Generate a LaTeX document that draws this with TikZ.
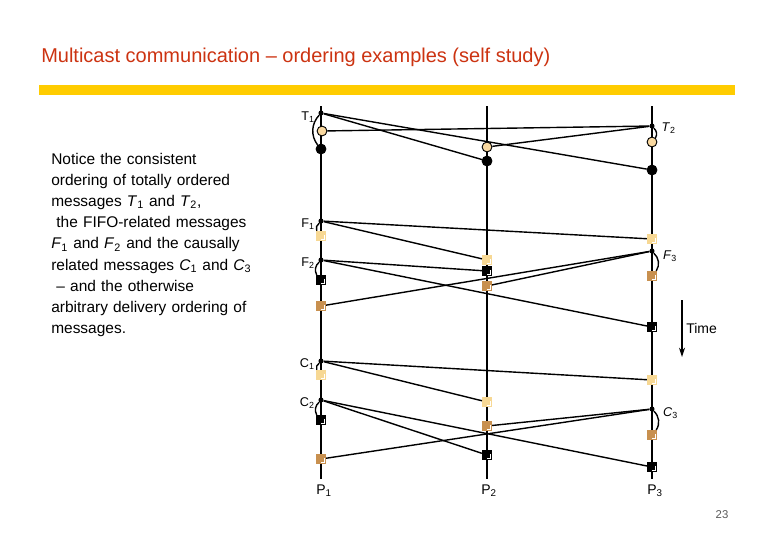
\documentclass[tikz,border=0pt]{standalone}
\usepackage{fontspec}
\setmainfont{Liberation Sans}
\usetikzlibrary{arrows.meta,positioning,calc}
\definecolor{titlered}{HTML}{CC3311}
\definecolor{baryellow}{HTML}{FFCC00}
\definecolor{msgpale}{HTML}{F7D894}
\definecolor{msgtan}{HTML}{C8904F}
\definecolor{circpale}{HTML}{FAD9A0}
\tikzset{
  sendpt/.style={circle,fill=black,inner sep=0pt,minimum size=3.8pt},
  rcvdot/.style={circle,draw=black,line width=0.7pt,fill=#1,inner sep=0pt,minimum size=7.4pt},
  rcvbox/.style={rectangle,fill=#1,inner sep=0pt,minimum size=7.2pt,
    path picture={\draw[white,line width=0.5pt]
      ($(path picture bounding box.east)+(-1pt,0.4pt)$) |- ($(path picture bounding box.south)+(0,1pt)$);}},
  blkbox/.style={rcvbox=black,draw=black,line width=0.5pt},
  lbl/.style={font=\fontsize{9.5}{11}\selectfont,inner sep=0pt},
  plbl/.style={font=\fontsize{10.5}{12}\selectfont,inner sep=0pt},
  msg/.style={line width=1.05pt},
}
\begin{document}
\begin{tikzpicture}[x=0.75pt,y=-0.75pt,>=Stealth]
\useasboundingbox (0,0) rectangle (780,540);
\node[anchor=west,text=titlered,font=\fontsize{15}{17}\selectfont,inner sep=0pt] (title) at (41,57)
  {Multicast communication – ordering examples (self study)};
\fill[baryellow] (39,85) rectangle (735,95);
\node[anchor=base west,text width=190pt,align=left,inner sep=0pt,
  font=\fontsize{11.6}{15.9}\selectfont] (notes) at (51,164)
  {Notice the consistent\\
   ordering of totally ordered\\
   messages \textit{T}\textsubscript{1} and \textit{T}\textsubscript{2},\\
   \ the FIFO-related messages\\
   \textit{F}\textsubscript{1} and \textit{F}\textsubscript{2} and the causally\\
   related messages \textit{C}\textsubscript{1} and \textit{C}\textsubscript{3}\\
   \ – and the otherwise\\
   arbitrary delivery ordering of\\
   messages.};

% processes
\node[plbl] (pone) at (324,491) {P\textsubscript{1}};
\node[plbl] (ptwo) at (489,491) {P\textsubscript{2}};
\node[plbl] (pthree) at (655,491) {P\textsubscript{3}};
\coordinate (topone) at (321,106);
\coordinate (toptwo) at (487,106);
\coordinate (topthree) at (652,106);
\draw[line width=1.15pt] (topone) -- (321,479);
\draw[line width=1.15pt] (toptwo) -- (487,479);
\draw[line width=1.15pt] (topthree) -- (652,479);

% totally ordered
\node[sendpt] (t1) at (321,113) {};
\node[sendpt] (t2) at (652,126) {};
\node[rcvdot=black] (t1p1) at (321,149) {};
\node[rcvdot=black] (t1p2) at (487,161) {};
\node[rcvdot=black] (t1p3) at (652,170) {};
\node[rcvdot=circpale] (t2p1) at (322,131) {};
\node[rcvdot=circpale] (t2p2) at (487,147) {};
\node[rcvdot=circpale] (t2p3) at (652,142) {};
\node[lbl,left=2.5pt of t1,yshift=-3pt] (t1lbl) {T\textsubscript{1}};
\node[lbl,right=5pt of t2,yshift=-1.5pt] (t2lbl) {\textit{T}\textsubscript{2}};

% FIFO
\node[sendpt] (f1) at (321,221) {};
\node[sendpt] (f2) at (321,260) {};
\node[sendpt] (f3) at (652,251) {};
\node[rcvbox=msgpale] (f1p1) at (321,236) {};
\node[rcvbox=msgpale] (f1p2) at (487,260) {};
\node[rcvbox=msgpale] (f1p3) at (652,239) {};
\node[blkbox] (f2p1) at (321,280) {};
\node[blkbox] (f2p2) at (487,271) {};
\node[blkbox] (f2p3) at (652,327) {};
\node[rcvbox=msgtan] (f3p3) at (652,276) {};
\node[rcvbox=msgtan] (f3p2) at (487,286) {};
\node[rcvbox=msgtan] (f3p1) at (321,306) {};
\node[lbl,left=2.5pt of f1,yshift=-2pt] (f1lbl) {F\textsubscript{1}};
\node[lbl,left=2.5pt of f2,yshift=-2pt] (f2lbl) {F\textsubscript{2}};
\node[lbl,right=6pt of f3,yshift=-4pt] (f3lbl) {\textit{F}\textsubscript{3}};

% causal
\node[sendpt] (c1) at (321,361) {};
\node[sendpt] (c2) at (321,400) {};
\node[sendpt] (c3) at (652,409) {};
\node[rcvbox=msgpale] (c1p1) at (321,375) {};
\node[rcvbox=msgpale] (c1p2) at (487,402) {};
\node[rcvbox=msgpale] (c1p3) at (652,380) {};
\node[blkbox] (c2p1) at (321,420) {};
\node[blkbox] (c2p2) at (487,455) {};
\node[blkbox] (c2p3) at (652,467) {};
\node[rcvbox=msgtan] (c3p3) at (652,435) {};
\node[rcvbox=msgtan] (c3p2) at (487,426) {};
\node[rcvbox=msgtan] (c3p1) at (321,459) {};
\node[lbl,left=2.5pt of c1,yshift=-2pt] (c1lbl) {C\textsubscript{1}};
\node[lbl,left=2.5pt of c2,yshift=-2pt] (c2lbl) {C\textsubscript{2}};
\node[lbl,right=6pt of c3,yshift=-3pt] (c3lbl) {\textit{C}\textsubscript{3}};

\foreach \s/\r in {t1/t1p2,t1/t1p3,t2/t2p1,t2/t2p2,f1/f1p2,f1/f1p3,f2/f2p2,f2/f2p3,
  f3/f3p2,f3/f3p1,c1/c1p2,c1/c1p3,c2/c2p2,c2/c2p3,c3/c3p2,c3/c3p1}
  \draw[msg] (\s) -- (\r);
\foreach \s/\r in {t1/t1p1,f1/f1p1,f2/f2p1,c1/c1p1,c2/c2p1}
  \draw[msg] (\s) to[bend right=40] (\r);
\foreach \s/\r in {t2/t2p3,f3/f3p3,c3/c3p3}
  \draw[msg] (\s) to[bend left=40] (\r);

% time
\coordinate (timetop) at (682,300);
\coordinate (timebot) at (682,357);
\draw[line width=0.8pt,-{Stealth[length=7pt,width=4.5pt]}] (timetop) -- (timebot);
\node[anchor=west,font=\fontsize{10.5}{12}\selectfont,inner sep=0pt] (timelbl) at (686,328) {Time};

\node[text=black!65,font=\fontsize{8.5}{10}\selectfont] (pageno) at (722,515) {23};
\end{tikzpicture}
\end{document}
